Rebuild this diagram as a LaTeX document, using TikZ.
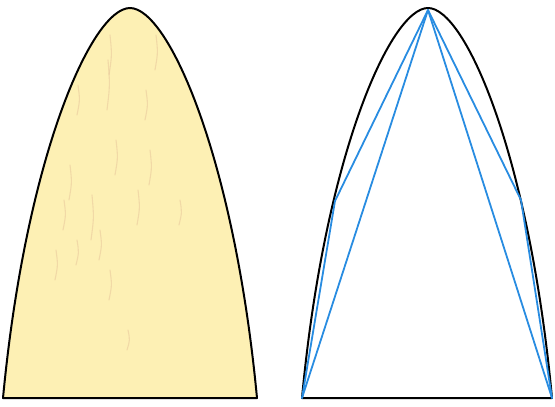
\documentclass[tikz,border=0pt]{standalone}
\definecolor{woodfill}{RGB}{253,240,180}
\definecolor{grain}{RGB}{228,190,150}
\definecolor{chordblue}{RGB}{40,140,225}
\tikzset{
  outline/.style={draw=black,line width=2pt,line join=round},
  chord/.style={draw=chordblue,line width=1.8pt,line join=round,line cap=round},
  streak/.style={draw=grain,line width=1.1pt,line cap=round,opacity=0.45}
}
\begin{document}
\begin{tikzpicture}[x=1pt,y=-1pt]
\useasboundingbox (0,0) rectangle (555,407);
% left segment
\coordinate (LA) at (3,398);
\coordinate (LT) at (130,8);
\coordinate (LB) at (257,398);
\begin{scope}
\path[clip] (LA) .. controls (25.9,156.2) and (91.9,8) .. (LT)
  .. controls (168.1,8) and (234.1,156.2) .. (LB) -- cycle;
\fill[woodfill] (0,0) rectangle (260,400);
\foreach \x/\ya/\yb in {110/35/75, 156/35/70, 108/60/110, 146/90/120, 78/85/115,
  116/140/175, 70/165/200, 92/195/240, 138/190/225, 100/230/260, 77/240/265,
  110/270/300, 64/200/230, 150/150/185, 180/200/225, 56/250/280, 128/330/350}
  \draw[streak] (\x,\ya) .. controls (\x+2,{(\ya+\yb)/2}) .. (\x-1,\yb);
\end{scope}
\draw[outline] (LA) .. controls (25.9,156.2) and (91.9,8) .. (LT)
  .. controls (168.1,8) and (234.1,156.2) .. (LB) -- cycle;
% right segment
\coordinate (RA) at (302,398);
\coordinate (RT) at (428,8);
\coordinate (RB) at (552,398);
\draw[outline] (RA) .. controls (324.5,156.2) and (390.5,8) .. (RT)
  .. controls (465.5,8) and (529.5,156.2) .. (RB) -- cycle;
% chords
\coordinate (AP) at (428,10);
\coordinate (ML) at (335,201);
\coordinate (MR) at (521,200);
\draw[chord] (RA) -- (AP) -- (RB);
\draw[chord] (RA) -- (ML) -- (AP) -- (MR) -- (RB);
\end{tikzpicture}
\end{document}
